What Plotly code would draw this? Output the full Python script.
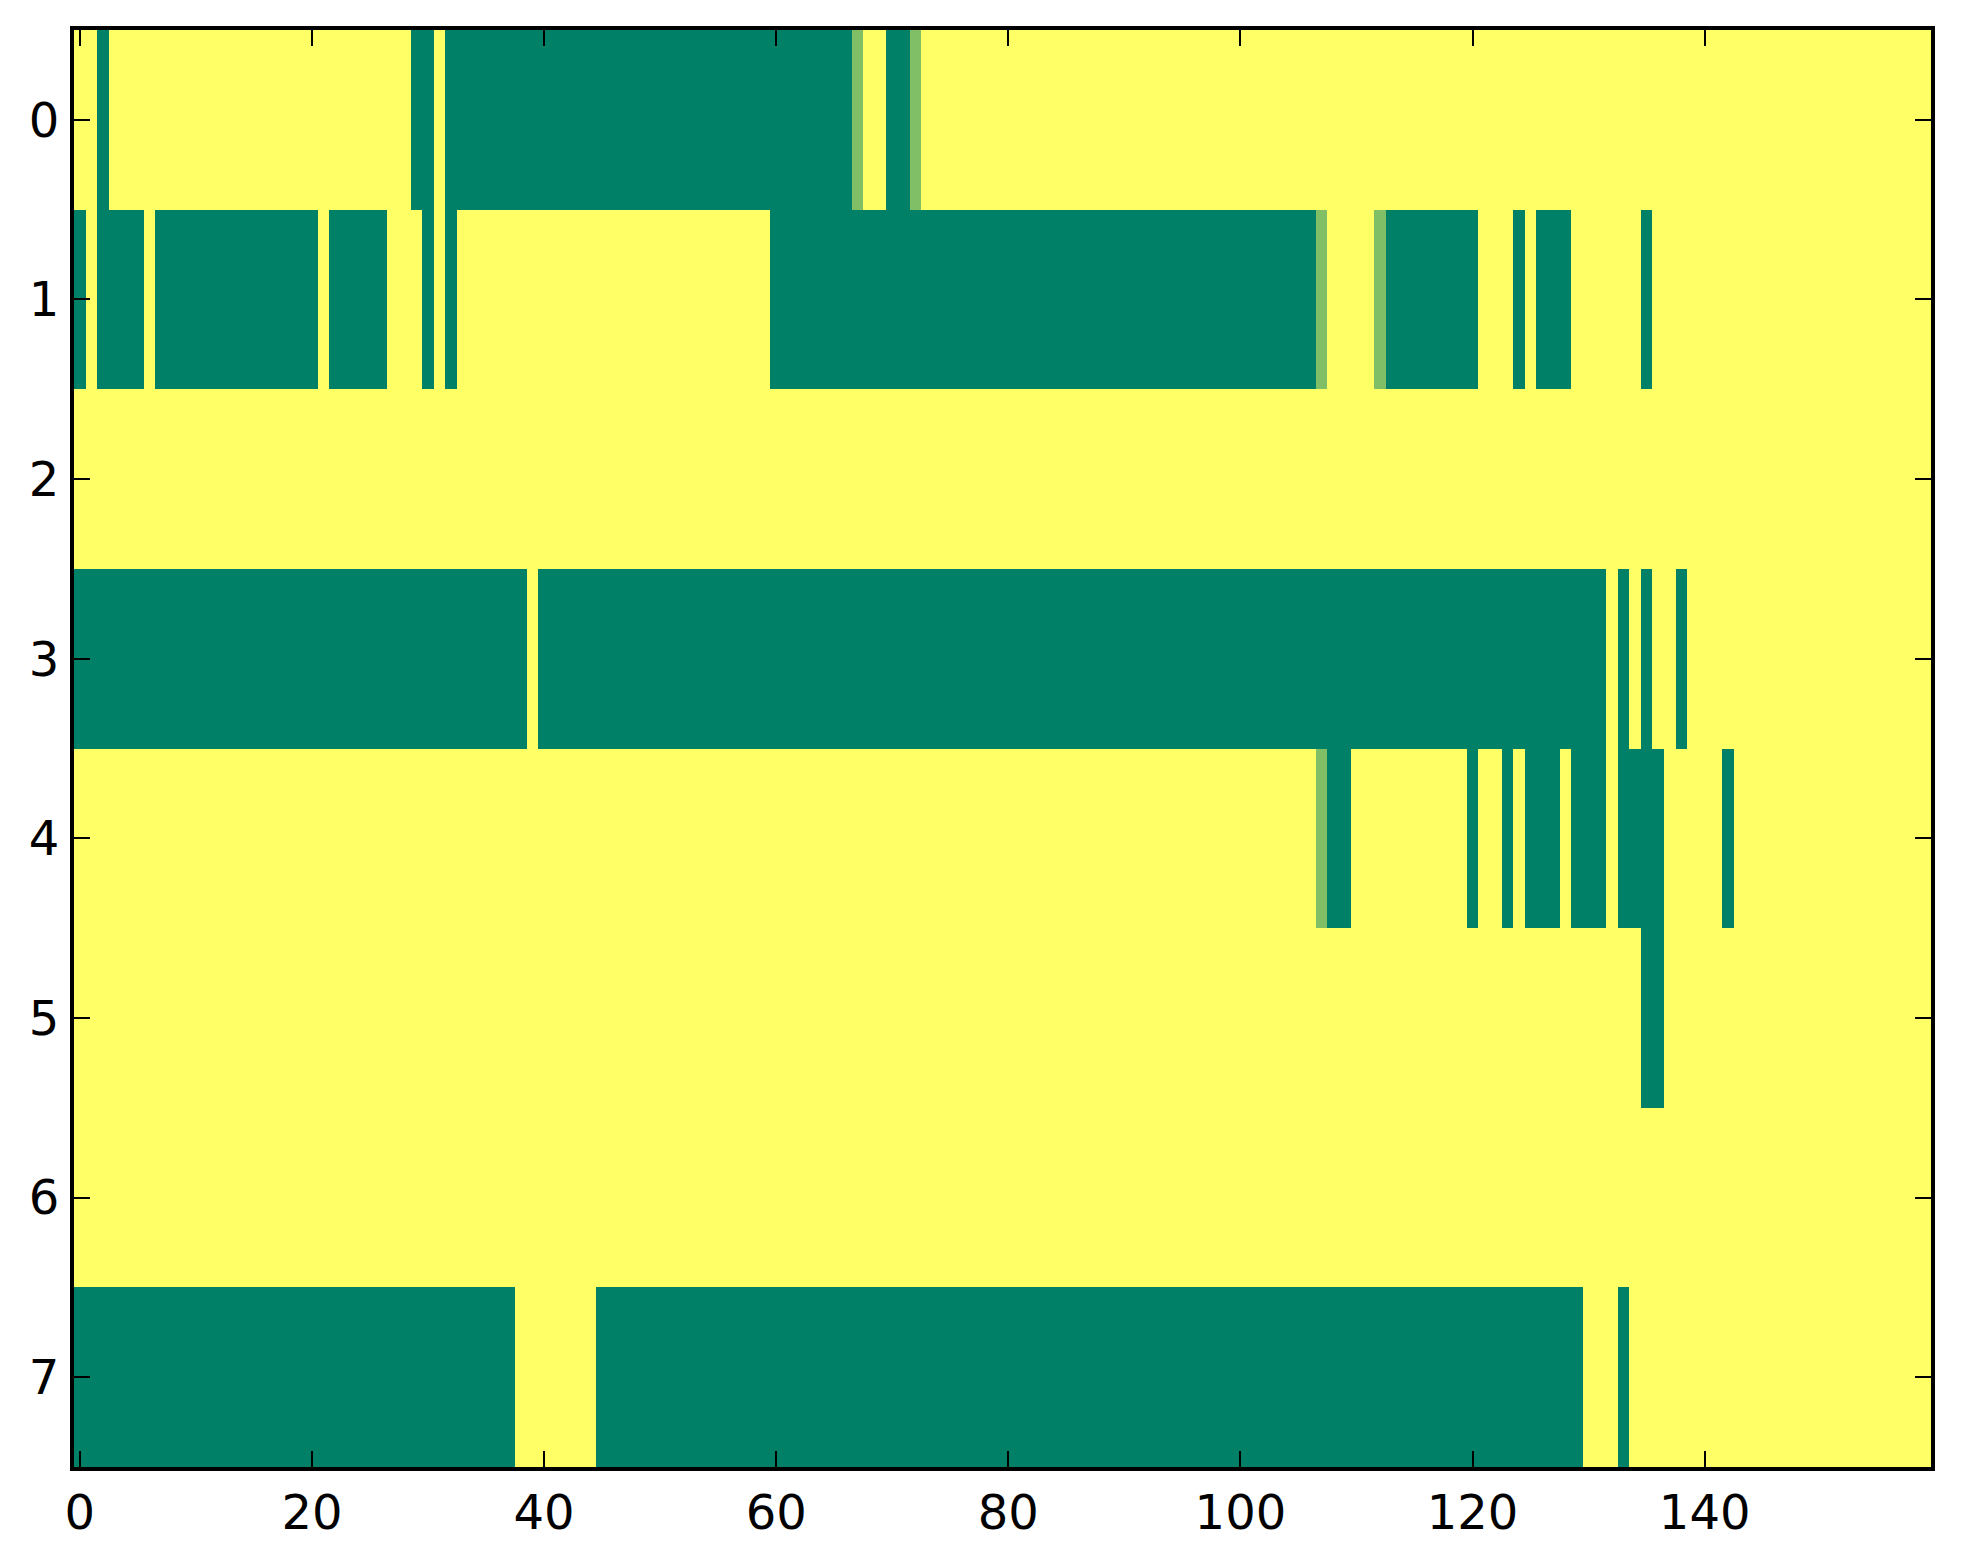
import plotly.graph_objects as go

# each row of the image as (value, run length) pairs, read left to right
# 0 = dark green, 0.5 = light green, 1 = yellow
row0 = [(1, 2), (0, 1), (1, 26), (0, 2), (1, 1), (0, 35), (0.5, 1), (1, 2), (0, 2), (0.5, 1), (1, 87)]
row1 = [(0, 1), (1, 1), (0, 4), (1, 1), (0, 14), (1, 1), (0, 5), (1, 3), (0, 1), (1, 1), (0, 1),
        (1, 27), (0, 47), (0.5, 1), (1, 4), (0.5, 1), (0, 8), (1, 3), (0, 1), (1, 1), (0, 3),
        (1, 6), (0, 1), (1, 24)]
row2 = [(1, 160)]
row3 = [(0, 39), (1, 1), (0, 92), (1, 1), (0, 1), (1, 1), (0, 1), (1, 2), (0, 1), (1, 21)]
row4 = [(1, 107), (0.5, 1), (0, 2), (1, 10), (0, 1), (1, 2), (0, 1), (1, 1), (0, 3), (1, 1),
        (0, 3), (1, 1), (0, 4), (1, 5), (0, 1), (1, 17)]
row5 = [(1, 135), (0, 2), (1, 23)]
row6 = [(1, 160)]
row7 = [(0, 38), (1, 7), (0, 85), (1, 3), (0, 1), (1, 26)]

rows = [row0, row1, row2, row3, row4, row5, row6, row7]
x_ticks = [0, 20, 40, 60, 80, 100, 120, 140]
y_ticks = [0, 1, 2, 3, 4, 5, 6, 7]


def expand(runs):
    out = []
    for v, n in runs:
        out += [v] * n
    return out


z = [expand(r) for r in rows]
ncols = len(z[0])

# matplotlib "summer"
summer = [[0.0, '#008066'], [0.5, '#80bf66'], [1.0, '#ffff66']]

fig = go.Figure(go.Heatmap(
    z=z,
    x=list(range(ncols)),
    y=list(range(len(z))),
    colorscale=summer,
    zmin=0, zmax=1,
    showscale=False,
    hoverinfo='skip'))

axis_style = dict(showline=True, linecolor='black', linewidth=4, mirror='ticks',
                  ticks='inside', ticklen=16, tickwidth=2, tickcolor='black',
                  showgrid=False, zeroline=False,
                  tickfont=dict(family='DejaVu Sans', size=48, color='black'))

fig.update_xaxes(range=[-0.5, ncols - 0.5], tickvals=x_ticks, ticklabelstandoff=0, **axis_style)
fig.update_yaxes(range=[len(z) - 0.5, -0.5], tickvals=y_ticks, ticklabelstandoff=1, **axis_style)

# page has an 8px body margin, so shift the plot area back by that much
fig.update_layout(width=1963, height=1564,
                  margin=dict(l=66, r=40, t=22, b=105),
                  paper_bgcolor='white', plot_bgcolor='white')

fig.write_html("out.html")
